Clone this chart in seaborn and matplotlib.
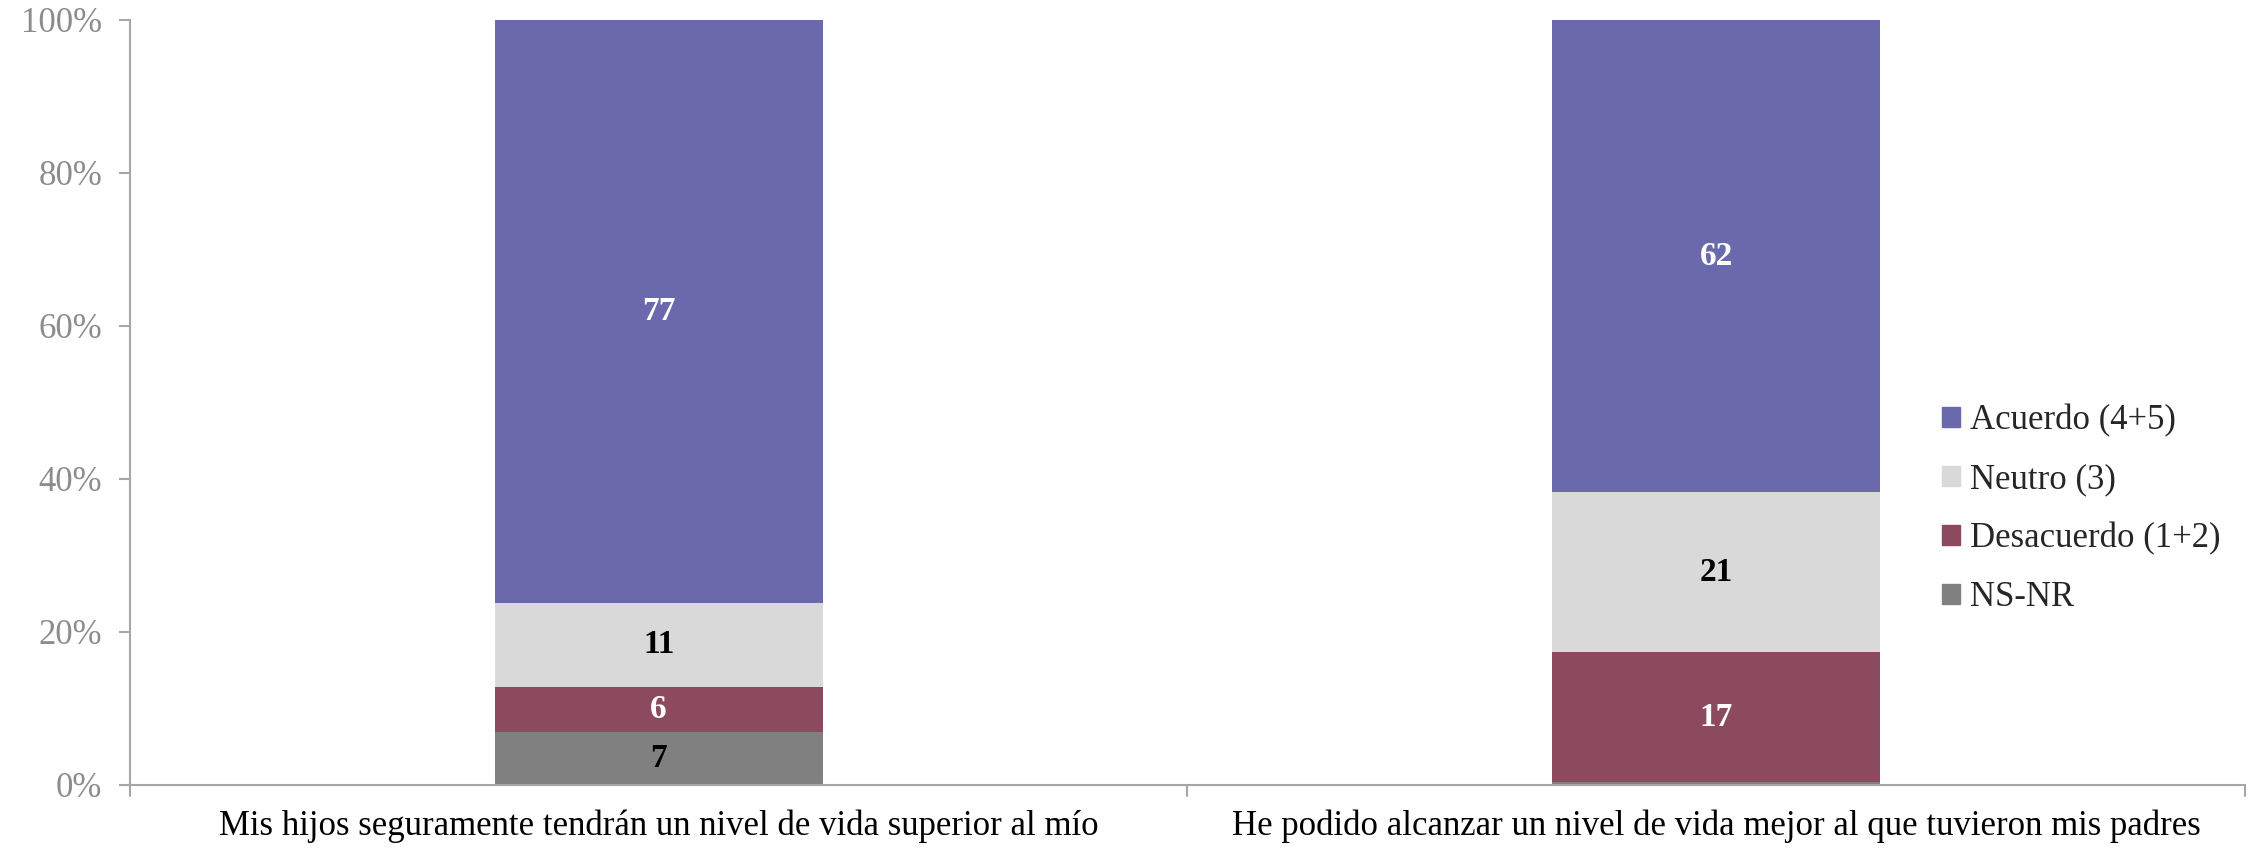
import numpy as np
import pandas as pd
import matplotlib.pyplot as plt
import seaborn as sns
from matplotlib.patches import Patch

categories = ["Mis hijos seguramente tendrán un nivel de vida superior al mío",
              "He podido alcanzar un nivel de vida mejor al que tuvieron mis padres"]
series = ["NS-NR", "Desacuerdo (1+2)", "Neutro (3)", "Acuerdo (4+5)"]
ns_nr = [7, 0.4]
desacuerdo = [6, 17]
neutro = [11, 21]
acuerdo = [77, 62]
show_label = [[True, False], [True, True], [True, True], [True, True]]

colors = {"NS-NR": "#808080", "Desacuerdo (1+2)": "#8B4A5E",
          "Neutro (3)": "#D9D9D9", "Acuerdo (4+5)": "#6A69AB"}
text_colors = {"NS-NR": "black", "Desacuerdo (1+2)": "white",
               "Neutro (3)": "black", "Acuerdo (4+5)": "white"}

sns.set_style("white")
plt.rcParams['font.family'] = ['Liberation Serif', 'DejaVu Serif']

vals = np.array([ns_nr, desacuerdo, neutro, acuerdo], dtype=float)
pct = vals / vals.sum(axis=0) * 100
cum = np.cumsum(pct, axis=0)

df = pd.DataFrame({"categoria": categories * len(series),
                   "serie": np.repeat(series, len(categories)),
                   "pct": pct.ravel(), "cum": cum.ravel()})

fig = plt.figure(figsize=(22.59, 8.5), dpi=100)
ax = fig.add_axes([0.0575, 0.0765, 0.9363, 0.9])

# draw cumulative heights from top series down so they stack
for s in series[::-1]:
    sub = df[df["serie"] == s]
    sns.barplot(data=sub, x="categoria", y="cum", color=colors[s],
                order=categories, width=0.31, saturation=1, ax=ax,
                linewidth=0, errorbar=None)

for i, s in enumerate(series):
    for j in range(len(categories)):
        if not show_label[i][j]:
            continue
        y = cum[i, j] - pct[i, j] / 2
        ax.text(j, y, "%d" % vals[i, j], ha="center", va="center",
                fontsize=24, fontweight="bold", color=text_colors[s])

ax.set_ylim(0, 100)
ax.set_xlim(-0.5, 1.5)
ax.set_yticks([0, 20, 40, 60, 80, 100])
ax.set_yticklabels(["0%", "20%", "40%", "60%", "80%", "100%"],
                   color="#8C8C8C", fontsize=25)
ax.set_xticks([0, 1])
ax.set_xticklabels(categories, fontsize=25, color="black")
ax.tick_params(axis="x", length=0, pad=18)
ax.tick_params(axis="y", length=8, color="#A6A6A6", width=1.5, pad=12, left=True)
# category separators on x axis
for xb in [-0.5, 0.5, 1.5]:
    ax.plot([xb, xb], [0, -1.5], color="#A6A6A6", lw=1.5, clip_on=False)
ax.set_xlabel("")
ax.set_ylabel("")
for sp in ["top", "right"]:
    ax.spines[sp].set_visible(False)
for sp in ["left", "bottom"]:
    ax.spines[sp].set_color("#A6A6A6")
    ax.spines[sp].set_linewidth(1.5)

handles = [Patch(color=colors[s], label=s) for s in series[::-1]]
fig.legend(handles=handles, loc="center left", bbox_to_anchor=(0.846, 0.401),
           frameon=False, fontsize=25, handlelength=0.5, handleheight=0.5,
           handletextpad=0.3, labelspacing=0.75)

fig.savefig("out.png", dpi=100)
